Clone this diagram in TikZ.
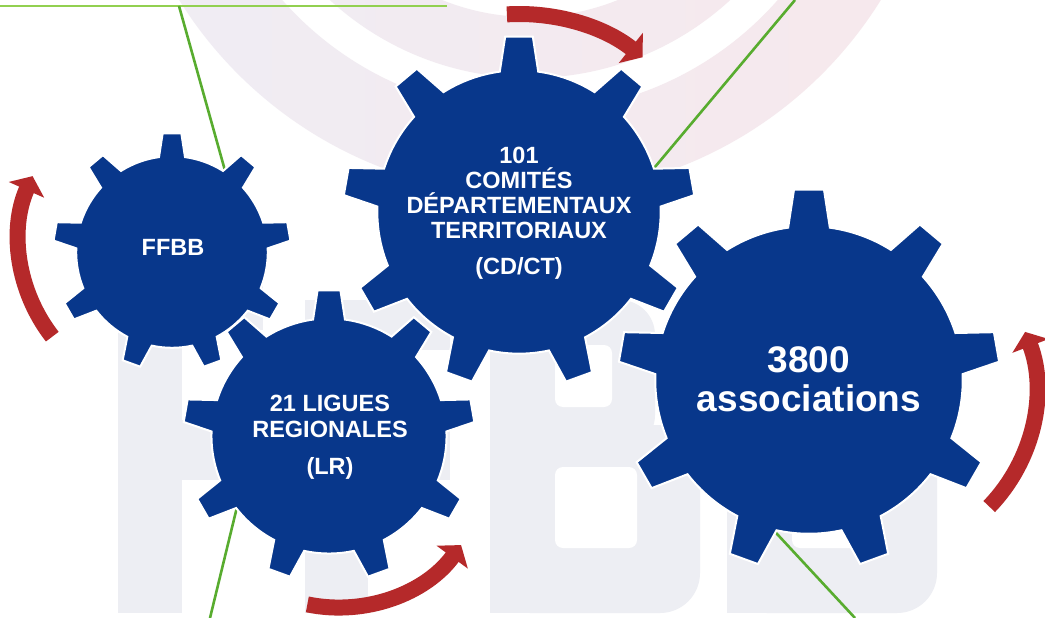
\documentclass[tikz,border=0pt]{standalone}
\usepackage{fontspec}
\setmainfont{Liberation Sans}
\usetikzlibrary{arrows.meta}
\definecolor{gearblue}{RGB}{8,55,139}
\definecolor{arrowred}{RGB}{181,41,42}
\definecolor{lightgreen}{RGB}{146,208,80}
\definecolor{darkgreen}{RGB}{88,172,47}
\definecolor{wmgray}{RGB}{237,238,243}
\definecolor{wmlav}{RGB}{239,237,244}
\definecolor{wmpink}{RGB}{247,232,236}

\newcommand{\drawgear}[3]{%
  \begin{scope}[shift={(#1,#2)}]
    \pgfmathsetmacro{\gR}{#3}
    \pgfmathsetmacro{\gr}{0.805*#3}
    \path[gear] (-97.8:\gr)
      \foreach \k in {0,...,8}{
        -- ({-90+40*\k-7.8}:\gr) -- ({-90+40*\k-4.5}:\gR) -- ({-90+40*\k+4.5}:\gR) -- ({-90+40*\k+7.8}:\gr)
        arc[start angle={-90+40*\k+7.8}, end angle={-90+40*\k+32.2}, radius=\gr]
      } -- cycle;
  \end{scope}}

\begin{document}
\begin{tikzpicture}[x=1pt,y=-1pt,
  gear/.style={fill=gearblue, draw=white, line width=2pt},
  redarc/.style={draw=arrowred, line width=16pt, -{Triangle[length=15pt,width=38pt]}},
  gline/.style={draw=darkgreen, line width=2.6pt},
  topline/.style={draw=lightgreen, line width=2.6pt},
  lbl/.style={text=white, font=\bfseries\fontsize{23.5}{28}\selectfont, anchor=base, inner sep=0pt},
  biglbl/.style={text=white, font=\bfseries\fontsize{37}{44}\selectfont, anchor=base, inner sep=0pt},
  wm/.style={fill=wmgray},
  hole/.style={fill=white, rounded corners=8pt}]
\useasboundingbox (0,0) rectangle (1045,618);
\clip (0,0) rectangle (1045,618);
\fill[white] (0,0) rectangle (1045,618);

% watermark rings
\shade[left color=wmlav, right color=wmpink, even odd rule]
  (530,-218) circle[radius=413] (530,-218) circle[radius=330]
  (530,-218) circle[radius=296] (530,-218) circle[radius=235];

% watermark letters F F B B
\fill[wm] (118,300) rectangle (182,613);
\fill[wm] (118,285) rectangle (263,330);
\fill[wm] (118,420) rectangle (263,480);
\fill[wm] (305,300) rectangle (368,613);
\fill[wm] (305,300) rectangle (450,350);
\fill[wm] (305,420) rectangle (450,480);
\fill[wm, rounded corners=35pt] (490,300) -- (655,300) -- (655,450) -- (490,450) -- cycle;
\fill[wm, rounded corners=40pt] (490,425) -- (700,425) -- (700,613) -- (490,613) -- cycle;
\fill[wm] (490,300) rectangle (555,613);
\fill[hole] (555,345) rectangle (612,407);
\fill[hole] (555,467) rectangle (637,548);
\fill[wm, rounded corners=35pt] (727,300) -- (892,300) -- (892,450) -- (727,450) -- cycle;
\fill[wm, rounded corners=40pt] (727,425) -- (937,425) -- (937,613) -- (727,613) -- cycle;
\fill[wm] (727,300) rectangle (792,613);
\fill[hole] (792,345) rectangle (849,407);
\fill[hole] (792,467) rectangle (874,548);

% green lines
\coordinate (l0a) at (0,6);
\coordinate (l0b) at (447,6);
\coordinate (l1a) at (179,6);
\coordinate (l1b) at (225.4,172);
\coordinate (l2a) at (795,0);
\coordinate (l2b) at (651.6,171);
\coordinate (l3a) at (210,618);
\coordinate (l3b) at (237,507);
\coordinate (l4a) at (855,618);
\coordinate (l4b) at (774.3,531);
\draw[topline] (l0a) -- (l0b);
\draw[gline] (l1a) -- (l1b);
\draw[gline] (l2a) -- (l2b);
\draw[gline] (l3a) -- (l3b);
\draw[gline] (l4a) -- (l4b);

% red arrows
\draw[redarc] (176,240) ++(142:157) arc[start angle=142, end angle=204, radius=157];
\draw[redarc] (519,212) ++(-93.5:198) arc[start angle=-93.5, end angle=-51.4, radius=198];
\draw[redarc] (338,455) ++(101.6:152.5) arc[start angle=101.6, end angle=36.2, radius=152.5];
\draw[redarc] (870,391) ++(44.1:166) arc[start angle=44.1, end angle=-20.85, radius=166];

% gears
\drawgear{172}{252}{119}
\drawgear{519}{212}{176}
\drawgear{329}{436}{146}
\drawgear{809}{380}{191}

% labels
\node[lbl] (ffbb) at (173,255) {FFBB};
\node[lbl] (cd1) at (519,163.3) {101};
\node[lbl] (cd2) at (519,188.3) {COMITÉS};
\node[lbl] (cd3) at (519,213.3) {DÉPARTEMENTAUX};
\node[lbl] (cd4) at (519,238.3) {TERRITORIAUX};
\node[lbl] (cd5) at (519,274.5) {(CD/CT)};
\node[lbl] (lr1) at (330,411) {21 LIGUES};
\node[lbl] (lr2) at (330,437) {REGIONALES};
\node[lbl] (lr3) at (330,474) {(LR)};
\node[biglbl] (as1) at (809,372) {3800};
\node[biglbl] (as2) at (809,411) {associations};
\end{tikzpicture}
\end{document}
